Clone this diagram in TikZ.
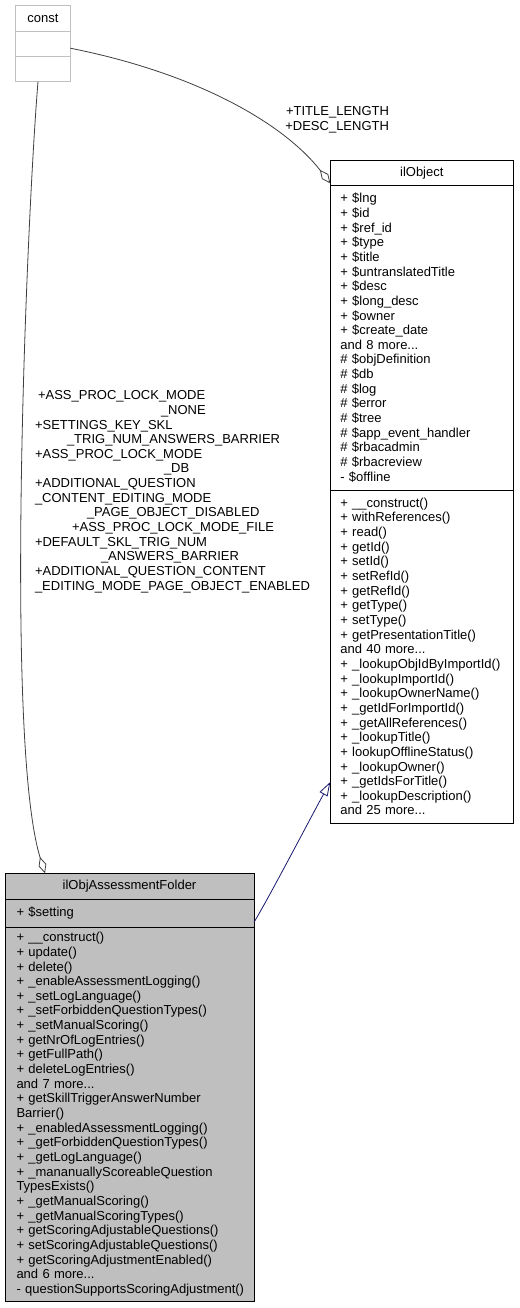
\documentclass[tikz,border=0pt]{standalone}
\usepackage{fontspec}
\setmainfont{Liberation Sans}
\usetikzlibrary{arrows.meta,positioning}
\definecolor{edgegrey}{RGB}{64,64,64}
\definecolor{inheritblue}{RGB}{25,25,112}
\definecolor{boxgrey}{RGB}{191,191,191}
\definecolor{extgrey}{RGB}{191,191,191}
\hyphenpenalty=10000
\exhyphenpenalty=10000

\begin{document}
\begin{tikzpicture}[x=1pt,y=-1pt,
    every node/.style={font=\fontsize{13}{14.65}\selectfont, outer sep=0pt},
    boxpart/.style={draw, line width=0.9pt, inner ysep=0pt, align=left},
    boxtitle/.style={boxpart, align=center},
    edgelabel/.style={inner sep=0pt},
    constedge/.style={draw=edgegrey, line width=0.8pt, -{Diamond[fill=white, length=17pt, width=8pt]}},
    inherit/.style={draw=inheritblue, line width=0.8pt, -{Triangle[fill=white, length=14pt, width=9pt]}}]
  \fill[white] (0,0) rectangle (519,1308);
  \useasboundingbox (0,0) rectangle (519,1308);

  % const
  \node[boxtitle, draw=extgrey, anchor=north west, text width=54.6pt, inner xsep=0pt, minimum height=26pt] (const) at (15.7,5.7) {const};
  \node[boxpart, draw=extgrey, below=0pt of const, text width=54.6pt, inner xsep=0pt, minimum height=25pt] (constattr) {\strut};
  \node[boxpart, draw=extgrey, below=0pt of constattr, text width=54.6pt, inner xsep=0pt, minimum height=25pt] (constop) {\strut};

  % ilObject
  \node[boxtitle, anchor=north west, text width=163pt, inner xsep=10pt, minimum height=24.6pt] (ilobj) at (330.3,160.7) {ilObject};
  \node[boxpart, below=0pt of ilobj, text width=163pt, inner xsep=10pt, minimum height=304.7pt] (ilobjattr) {%
    + \$lng\\
    + \$id\\
    + \$ref\_id\\
    + \$type\\
    + \$title\\
    + \$untranslatedTitle\\
    + \$desc\\
    + \$long\_desc\\
    + \$owner\\
    + \$create\_date\\
    and 8 more...\\
    \# \$objDefinition\\
    \# \$db\\
    \# \$log\\
    \# \$error\\
    \# \$tree\\
    \# \$app\_event\_handler\\
    \# \$rbacadmin\\
    \# \$rbacreview\\
    - \$offline};
  \node[boxpart, below=0pt of ilobjattr, text width=163pt, inner xsep=10pt, minimum height=333pt] (ilobjop) {%
    + \_\_construct()\\
    + withReferences()\\
    + read()\\
    + getId()\\
    + setId()\\
    + setRefId()\\
    + getRefId()\\
    + getType()\\
    + setType()\\
    + getPresentationTitle()\\
    and 40 more...\\
    +~\_lookupObjIdByImportId()\\
    + \_lookupImportId()\\
    + \_lookupOwnerName()\\
    + \_getIdForImportId()\\
    + \_getAllReferences()\\
    + \_lookupTitle()\\
    + lookupOfflineStatus()\\
    + \_lookupOwner()\\
    + \_getIdsForTitle()\\
    + \_lookupDescription()\\
    and 25 more...};

  % ilObjAssessmentFolder
  \node[boxtitle, fill=boxgrey, anchor=north west, text width=226pt, inner xsep=11.5pt, minimum height=26pt] (folder) at (5,873.3) {ilObjAssessmentFolder};
  \node[boxpart, fill=boxgrey, below=0pt of folder, text width=226pt, inner xsep=11.5pt, minimum height=28pt] (folderattr) {+ \$setting};
  \node[boxpart, fill=boxgrey, below=0pt of folderattr, text width=226pt, inner xsep=11.5pt, minimum height=373.7pt] (folderop) {%
    + \_\_construct()\\
    + update()\\
    + delete()\\
    + \_enableAssessmentLogging()\\
    + \_setLogLanguage()\\
    + \_setForbiddenQuestionTypes()\\
    + \_setManualScoring()\\
    + getNrOfLogEntries()\\
    + getFullPath()\\
    + deleteLogEntries()\\
    and 7 more...\\
    + getSkillTriggerAnswerNumber\\
    Barrier()\\
    + \_enabledAssessmentLogging()\\
    + \_getForbiddenQuestionTypes()\\
    + \_getLogLanguage()\\
    + \_mananuallyScoreableQuestion\\
    TypesExists()\\
    + \_getManualScoring()\\
    + \_getManualScoringTypes()\\
    +~getScoringAdjustableQuestions()\\
    +~setScoringAdjustableQuestions()\\
    +~getScoringAdjustmentEnabled()\\
    and 6 more...\\
    -~questionSupportsScoringAdjustment()};

  % connectors
  \draw[constedge] ([yshift=-4pt]constattr.east) .. controls (200,74) and (285,125) .. ([yshift=2pt]ilobj.south west);
  \draw[constedge] ([xshift=-5pt]constop.south) .. controls (27,214) and (4,741) .. ([xshift=40pt]folder.north west);
  \draw[inherit] ([yshift=-9pt]folderattr.east) .. controls (272,892) and (312,815) .. ([yshift=41pt]ilobjop.south west);

  % labels
  \node[edgelabel, align=right, anchor=east] (lblilobj) at (389,120) {+TITLE\_LENGTH\\+DESC\_LENGTH};
  \foreach \dx/\txt [count=\i] in {38/+ASS\_PROC\_LOCK\_MODE, 161/\_NONE,
      35/+SETTINGS\_KEY\_SKL, 67/\_TRIG\_NUM\_ANSWERS\_BARRIER,
      35/+ASS\_PROC\_LOCK\_MODE, 164/\_DB,
      35/+ADDITIONAL\_QUESTION, 35/\_CONTENT\_EDITING\_MODE, 87/\_PAGE\_OBJECT\_DISABLED,
      72/+ASS\_PROC\_LOCK\_MODE\_FILE,
      35/+DEFAULT\_SKL\_TRIG\_NUM, 101/\_ANSWERS\_BARRIER,
      35/+ADDITIONAL\_QUESTION\_CONTENT, 35/\_EDITING\_MODE\_PAGE\_OBJECT\_ENABLED}
    \node[edgelabel, anchor=base west] (lblfolder\i) at (\dx,{385.05+14.65*\i}) {\txt};
\end{tikzpicture}
\end{document}
